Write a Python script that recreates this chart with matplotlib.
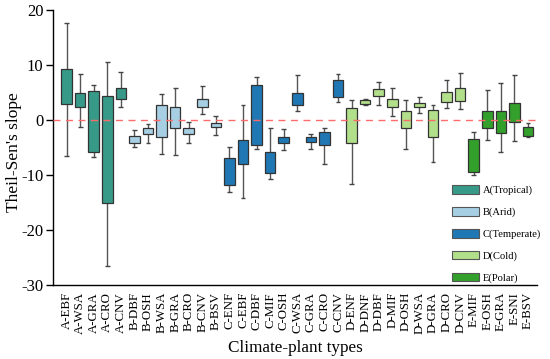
import matplotlib
matplotlib.use("Agg")
import matplotlib.pyplot as plt
from matplotlib.patches import Patch

plt.rcParams['font.family'] = ['Liberation Serif', 'DejaVu Serif']
plt.rcParams['axes.unicode_minus'] = False

categories = ["A-EBF", "A-WSA", "A-GRA", "A-CRO", "A-CNV",
              "B-DBF", "B-OSH", "B-WSA", "B-GRA", "B-CRO", "B-CNV", "B-BSV",
              "C-ENF", "C-EBF", "C-DBF", "C-MIF", "C-OSH", "C-WSA", "C-GRA", "C-CRO", "C-CNV",
              "D-ENF", "D-DNF", "D-DBF", "D-MIF", "D-OSH", "D-WSA", "D-GRA", "D-CRO", "D-CNV",
              "E-MIF", "E-OSH", "E-GRA", "E-SNI", "E-BSV"]
whisker_hi = [17.7, 8.4, 6.4, 10.5, 8.7,
              -1.9, -0.7, 4.8, 5.8, -0.3, 6.2, 0.8,
              -4.9, 2.8, 7.9, -1.5, -1.6, 8.1, -2.5, -1.5, 8.4,
              3.7, 3.9, 7.0, 5.9, 3.6, 4.1, 2.8, 7.2, 8.6,
              -2.1, 5.4, 6.8, 8.2, -0.6]
box_hi = [9.2, 4.9, 5.3, 4.4, 5.9,
          -2.9, -1.5, 2.8, 2.3, -1.4, 3.9, -0.5,
          -6.9, -3.6, 6.4, -5.8, -3.0, 5.0, -3.1, -2.1, 7.3,
          2.1, 3.6, 5.6, 3.9, 1.7, 3.1, 1.9, 5.1, 5.8,
          -3.5, 1.7, 1.7, 3.0, -1.2]
box_lo = [3.0, 2.3, -5.9, -15.0, 3.8,
          -4.2, -2.6, -3.0, -1.4, -2.5, 2.3, -1.3,
          -11.9, -8.0, -4.6, -9.6, -4.1, 2.7, -4.0, -4.5, 4.2,
          -4.1, 3.0, 4.4, 2.4, -1.4, 2.3, -3.0, 3.2, 3.5,
          -9.4, -1.4, -2.3, -0.4, -2.9]
whisker_lo = [-6.5, -1.2, -6.7, -26.5, 2.3,
              -4.9, -4.1, -6.2, -6.4, -4.1, 1.1, -2.7,
              -13.0, -14.1, -5.3, -10.7, -5.4, 1.7, -5.3, -8.0, 3.3,
              -11.6, 2.8, 2.7, 0.8, -5.2, 1.3, -7.6, 2.1, 2.0,
              -10.0, -3.6, -5.8, -3.9, -3.0]
groups = ["A", "B", "C", "D", "E"]
group_labels = ["A(Tropical)", "B(Arid)", "C(Temperate)", "D(Cold)", "E(Polar)"]
group_colors = {"A": "#379a88", "B": "#a6cfe4", "C": "#1f78b4", "D": "#b2df8a", "E": "#33a02c"}

fig = plt.figure(figsize=(5.5, 3.59), dpi=100)
ax = fig.add_axes([53/550, 1 - 285/359, (537-53)/550, (285-10)/359])

bw = 0.78
cap = 0.36
for i, c in enumerate(categories):
    col = group_colors[c[0]]
    ax.vlines(i, whisker_lo[i], whisker_hi[i], color="#555555", lw=1.0, zorder=1)
    ax.hlines([whisker_lo[i], whisker_hi[i]], i - cap/2, i + cap/2, color="#444444", lw=1.0, zorder=1)
    ax.bar(i, box_hi[i] - box_lo[i], bottom=box_lo[i], width=bw, color=col,
           edgecolor="#333333", linewidth=0.9, zorder=2)

ax.axhline(0, color="#ff6b6b", ls=(0, (5, 4)), lw=1.0, zorder=3)

ax.set_xlim(-1, 34.66)
ax.set_ylim(-30, 20)
ax.set_yticks([-30, -20, -10, 0, 10, 20])
ax.set_xticks(range(len(categories)))
ax.set_xticklabels(categories, rotation=90, fontsize=9.3)
ax.tick_params(axis='x', length=0, pad=5)
ax.tick_params(axis='y', labelsize=12, length=5, width=1, direction='out', pad=2)
for s in ['top', 'right']:
    ax.spines[s].set_visible(False)
for s in ['left', 'bottom']:
    ax.spines[s].set_linewidth(1.0)

ax.set_ylabel("Theil-Sen's slope", fontsize=12.5)
ax.yaxis.set_label_coords(-0.064, 0.485)
ax.set_xlabel("Climate-plant types", fontsize=12.3)
ax.xaxis.set_label_coords(0.5, -0.2)

handles = [Patch(facecolor=group_colors[g], edgecolor="#555555", linewidth=0.8, label=l)
           for g, l in zip(groups, group_labels)]
fig.legend(handles=handles, loc='upper left', frameon=False, fontsize=7.6,
           handlelength=2.55, handleheight=0.9, handletextpad=0.35, labelspacing=1.1,
           borderpad=0, borderaxespad=0,
           bbox_to_anchor=(452/550, 1 - 185/359))

fig.savefig("out.png", dpi=100)
